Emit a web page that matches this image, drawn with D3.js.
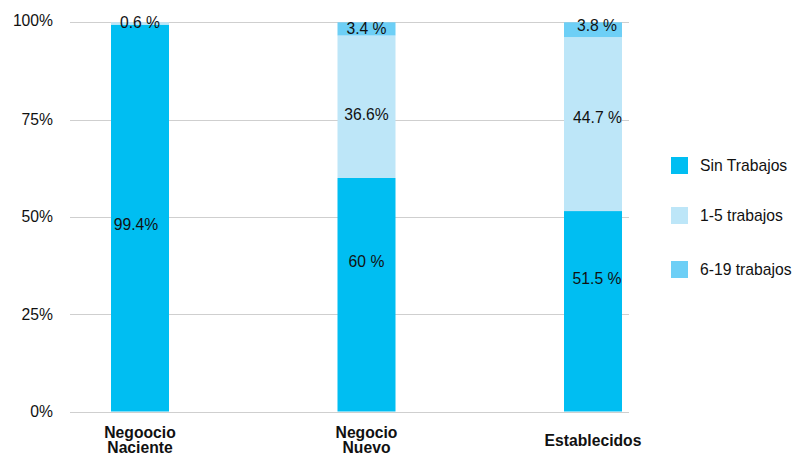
<!DOCTYPE html>
<html>
<head>
<meta charset="utf-8">
<script src="https://cdn.jsdelivr.net/npm/d3@7"></script>
<style>
  html, body { margin: 0; padding: 0; background: #fff; }
  svg { display: block; font-family: Helvetica, "Liberation Sans", Arial, sans-serif; }
</style>
</head>
<body>
<svg id="chart" width="794" height="455"></svg>
<script>
// ---- data ----
const categories = [["Negoocio", "Naciente"], ["Negocio", "Nuevo"], ["Establecidos"]];
const seriesNames = ["Sin Trabajos", "1-5 trabajos", "6-19 trabajos"];
const sinTrabajos = [99.4, 60, 51.5];
const unoCinco = [0.6, 36.6, 44.7];
const seisDiecinueve = [0, 3.4, 3.8];
const sinLabels = ["99.4%", "60 %", "51.5 %"];
const unoLabels = ["0.6 %", "36.6%", "44.7 %"];
const seisLabels = ["", "3.4 %", "3.8 %"];
const yTicks = [0, 25, 50, 75, 100];

// ---- layout / style ----
const colors = ["#00BEF2", "#BDE6F8", "#6DCFF6"];
const labelNudge = [
  [[-4, 6], [0, -33.6], [4, -32.5]],
  [[0, -1], [0, 7.4], [4.5, -6.6]],
  [[0, 0], [0, 0], [4, -4]]
];
const fontSize = 15.7;
const barWidth = 58;

const svg = d3.select("#chart");
const catKeys = categories.map(c => c.join(" "));
const x = d3.scalePoint().domain(catKeys).range([140, 593]);
const y = d3.scaleLinear().domain([0, 100]).range([411.5, 22.3]);

// gridlines
svg.append("g").selectAll("line").data(yTicks).join("line")
  .attr("x1", 70).attr("x2", 629)
  .attr("y1", d => Math.round(y(d)) + 0.5).attr("y2", d => Math.round(y(d)) + 0.5)
  .attr("stroke", "#cfcfcf").attr("stroke-width", 1);

// y tick labels
svg.append("g").selectAll("text").data(yTicks).join("text")
  .attr("x", 53).attr("y", d => y(d) - (d === 100 ? 1.5 : 0))
  .attr("text-anchor", "end").attr("dominant-baseline", "central")
  .attr("font-size", fontSize).attr("fill", "#111")
  .text(d => d + "%");

// stacked data
const rows = catKeys.map((k, i) => ({ key: k, s0: sinTrabajos[i], s1: unoCinco[i], s2: seisDiecinueve[i] }));
const stack = d3.stack().keys(["s0", "s1", "s2"]);
const stacked = stack(rows);
const labelSets = [sinLabels, unoLabels, seisLabels];

stacked.forEach((layer, si) => {
  svg.append("g").selectAll("rect").data(layer).join("rect")
    .attr("x", d => x(d.data.key) - barWidth / 2)
    .attr("width", barWidth)
    .attr("y", d => y(d[1]))
    .attr("height", d => Math.max(0, y(d[0]) - y(d[1])))
    .attr("fill", colors[si]);
});

stacked.forEach((layer, si) => {
  svg.append("g").selectAll("text").data(layer).join("text")
    .filter((d, i) => labelSets[si][i] !== "")
    .attr("x", (d, i) => x(d.data.key) + labelNudge[si][layer.indexOf(d)][0])
    .attr("y", d => (y(d[0]) + y(d[1])) / 2 + labelNudge[si][layer.indexOf(d)][1])
    .attr("text-anchor", "middle").attr("dominant-baseline", "central")
    .attr("font-size", fontSize).attr("fill", "#111")
    .text(d => labelSets[si][layer.indexOf(d)]);
});

// category labels
const lineH = 15;
const catG = svg.append("g");
categories.forEach((lines, i) => {
  const t = catG.append("text")
    .attr("x", x(catKeys[i])).attr("text-anchor", "middle")
    .attr("font-size", fontSize).attr("font-weight", "bold").attr("fill", "#111");
  const base = 445.7 - (lines.length - 1) * lineH / 2;
  lines.forEach((ln, j) => {
    t.append("tspan").attr("x", x(catKeys[i])).attr("y", base + j * lineH).text(ln);
  });
});

// legend
const legend = svg.append("g");
const legendY = [165.5, 215.5, 269.5];
seriesNames.forEach((name, i) => {
  legend.append("rect").attr("x", 671).attr("y", legendY[i] - 8.5)
    .attr("width", 17).attr("height", 17).attr("fill", colors[i]);
  legend.append("text").attr("x", 700).attr("y", legendY[i])
    .attr("dominant-baseline", "central")
    .attr("font-size", fontSize).attr("fill", "#111").text(name);
});
</script>
</body>
</html>
